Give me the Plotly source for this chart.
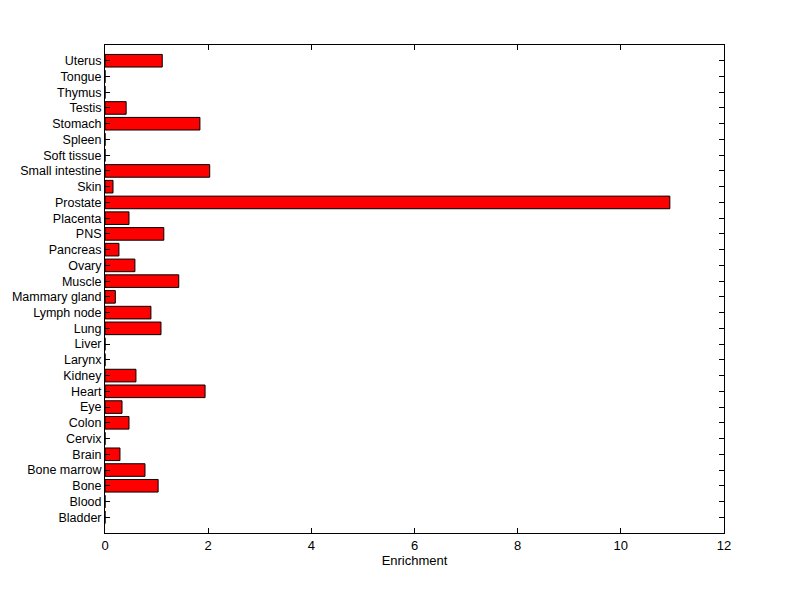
import plotly.graph_objects as go

tissues = ["Bladder", "Blood", "Bone", "Bone marrow", "Brain", "Cervix", "Colon", "Eye",
           "Heart", "Kidney", "Larynx", "Liver", "Lung", "Lymph node", "Mammary gland",
           "Muscle", "Ovary", "Pancreas", "PNS", "Placenta", "Prostate", "Skin",
           "Small intestine", "Soft tissue", "Spleen", "Stomach", "Testis", "Thymus",
           "Tongue", "Uterus"]
enrichment = [0, 0, 1.03, 0.775, 0.29, 0, 0.465, 0.33,
              1.94, 0.60, 0, 0, 1.085, 0.89, 0.20,
              1.43, 0.58, 0.27, 1.14, 0.465, 10.95, 0.155,
              2.03, 0, 0, 1.84, 0.41, 0, 0, 1.11]
x_ticks = [0, 2, 4, 6, 8, 10, 12]

positions = list(range(len(tissues)))

fig = go.Figure(go.Bar(
    x=enrichment, y=positions, orientation="h", width=0.8,
    marker=dict(color="#ff0000", line=dict(color="black", width=1)),
))

font = dict(family="Liberation Sans, Arial, sans-serif", size=13, color="black")
fig.update_layout(
    width=800, height=599,
    margin=dict(l=97, r=84, t=37, b=74),
    paper_bgcolor="white", plot_bgcolor="white",
    font=font, showlegend=False,
    xaxis=dict(range=[0, 12], tickvals=x_ticks, ticks="inside", ticklen=5,
               tickcolor="black", showline=True, linecolor="black", linewidth=1,
               mirror="allticks", showgrid=False, zeroline=False, automargin=False,
               title=dict(text="Enrichment", font=font, standoff=4)),
    yaxis=dict(range=[-1, 30], tickvals=positions, ticktext=tissues, ticks="inside",
               ticklen=5, tickcolor="black", showline=True, linecolor="black",
               linewidth=1, mirror="allticks", showgrid=False, zeroline=False,
               automargin=False, tickfont=dict(size=12.5)),
)

fig.write_html("out.html")
